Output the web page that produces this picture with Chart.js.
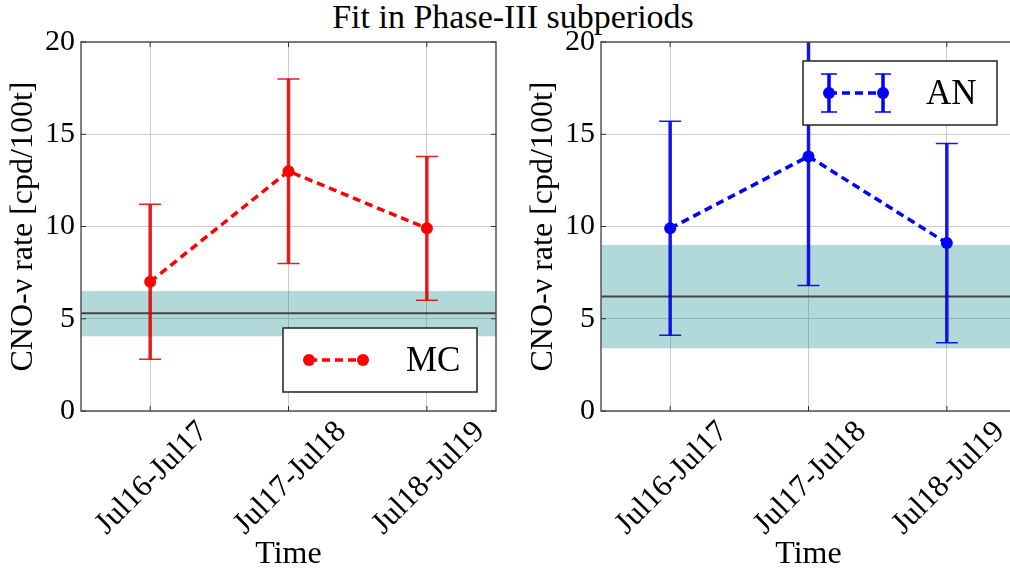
<!DOCTYPE html>
<html>
<head>
<meta charset="utf-8">
<script src="https://cdn.jsdelivr.net/npm/chart.js@4.4.1/dist/chart.umd.min.js"></script>
<style>
  body { margin: 0; background: #fff; width: 1010px; height: 574px; overflow: hidden; position: relative; font-family: "Liberation Serif", serif; }
  #title { position: absolute; top: 0; left: 0; width: 1026px; text-align: center; font-size: 34px; line-height: 34px; color: #000; }
  .panel { position: absolute; top: 0; width: 510px; height: 574px; }
</style>
</head>
<body>
<div id="title">Fit in Phase-III subperiods</div>
<div class="panel" style="left:0"><canvas id="mcChart" width="510" height="574"></canvas></div>
<div class="panel" style="left:520px"><canvas id="anChart" width="510" height="574"></canvas></div>
<script>
var periods = ["Jul16-Jul17", "Jul17-Jul18", "Jul18-Jul19"];
var yTicks = [0, 5, 10, 15, 20];

// MC fit
var mcRate = [7.0, 13.0, 9.9];
var mcLow  = [2.8, 8.0, 6.0];
var mcHigh = [11.2, 18.0, 13.8];
var mcBand = [4.05, 6.5];
var mcRef  = 5.3;

// AN fit
var anRate = [9.9, 13.8, 9.1];
var anLow  = [4.1, 6.8, 3.7];
var anHigh = [15.7, 20.8, 14.5];
var anBand = [3.4, 9.0];
var anRef  = 6.2;

var SERIF = "'Liberation Serif', serif";

var extras = {
    id: 'extras',
    beforeDatasetsDraw: function(chart, args, o) {
        var ctx = chart.ctx, a = chart.chartArea;
        var xs = chart.scales.x, ys = chart.scales.y;
        ctx.save();
        ctx.beginPath();
        ctx.rect(a.left, a.top, a.right - a.left, a.bottom - a.top);
        ctx.clip();
        // expected-range band and reference line
        var t = ys.getPixelForValue(o.band[1]), b = ys.getPixelForValue(o.band[0]);
        ctx.fillStyle = 'rgba(0,128,128,0.3)';
        ctx.fillRect(a.left, t, a.right - a.left, b - t);
        var r = ys.getPixelForValue(o.ref);
        ctx.strokeStyle = '#444';
        ctx.lineWidth = 2;
        ctx.beginPath();
        ctx.moveTo(a.left, r);
        ctx.lineTo(a.right, r);
        ctx.stroke();
        // error bars
        ctx.strokeStyle = o.errColor;
        for (var i = 0; i < o.low.length; i++) {
            var px = xs.getPixelForValue(i);
            var lo = ys.getPixelForValue(o.low[i]), hi = ys.getPixelForValue(o.high[i]);
            ctx.lineWidth = 3.5;
            ctx.beginPath();
            ctx.moveTo(px, lo);
            ctx.lineTo(px, hi);
            ctx.stroke();
            ctx.lineWidth = 1.5;
            ctx.beginPath();
            ctx.moveTo(px - 11, lo); ctx.lineTo(px + 11, lo);
            ctx.moveTo(px - 11, hi); ctx.lineTo(px + 11, hi);
            ctx.stroke();
        }
        ctx.restore();
    },
    afterDraw: function(chart, args, o) {
        var ctx = chart.ctx, a = chart.chartArea;
        var xs = chart.scales.x, ys = chart.scales.y;
        ctx.save();
        // frame and inward tick marks
        ctx.strokeStyle = '#555';
        ctx.lineWidth = 1.5;
        ctx.strokeRect(a.left, a.top, a.right - a.left, a.bottom - a.top);
        ctx.lineWidth = 1;
        ctx.strokeStyle = '#333';
        ctx.beginPath();
        ys.ticks.forEach(function(tk) {
            var py = ys.getPixelForValue(tk.value);
            ctx.moveTo(a.left, py); ctx.lineTo(a.left + 5, py);
            ctx.moveTo(a.right, py); ctx.lineTo(a.right - 5, py);
        });
        xs.ticks.forEach(function(tk, i) {
            var px = xs.getPixelForValue(i);
            ctx.moveTo(px, a.bottom); ctx.lineTo(px, a.bottom - 5);
            ctx.moveTo(px, a.top); ctx.lineTo(px, a.top + 5);
        });
        ctx.stroke();

        // legend
        var lg = o.legend;
        var w = 194, h = 64;
        var bx = a.right - 19 - w;
        var by = lg.top ? a.top + 19 : a.bottom - 19 - h;
        ctx.fillStyle = '#fff';
        ctx.fillRect(bx, by, w, h);
        ctx.strokeStyle = '#222';
        ctx.lineWidth = 1.5;
        ctx.strokeRect(bx, by, w, h);
        var cy = by + h / 2, x1 = bx + 26, x2 = bx + 80;
        ctx.strokeStyle = lg.color;
        ctx.lineWidth = 3.5;
        ctx.setLineDash([8, 5]);
        ctx.beginPath();
        ctx.moveTo(x1, cy); ctx.lineTo(x2, cy);
        ctx.stroke();
        ctx.setLineDash([]);
        [x1, x2].forEach(function(px) {
            if (lg.errorBar) {
                ctx.strokeStyle = lg.color;
                ctx.lineWidth = 3.5;
                ctx.beginPath();
                ctx.moveTo(px, cy - 19); ctx.lineTo(px, cy + 19);
                ctx.stroke();
                ctx.lineWidth = 1.5;
                ctx.beginPath();
                ctx.moveTo(px - 8, cy - 19); ctx.lineTo(px + 8, cy - 19);
                ctx.moveTo(px - 8, cy + 19); ctx.lineTo(px + 8, cy + 19);
                ctx.stroke();
            }
            ctx.fillStyle = lg.color;
            ctx.beginPath();
            ctx.arc(px, cy, 6, 0, Math.PI * 2);
            ctx.fill();
        });
        ctx.fillStyle = '#000';
        ctx.font = '35px ' + SERIF;
        ctx.textBaseline = 'middle';
        ctx.textAlign = 'left';
        ctx.fillText(lg.label, bx + 123, cy + 2);
        ctx.restore();
    }
};

function makeChart(id, rate, low, high, band, ref, color, errColor, legend) {
    return new Chart(document.getElementById(id), {
        type: 'line',
        data: {
            labels: periods,
            datasets: [{
                label: legend.label,
                data: rate,
                borderColor: color,
                backgroundColor: color,
                borderWidth: 3.5,
                borderDash: [8, 5],
                pointRadius: 6,
                pointBorderWidth: 0,
                pointBackgroundColor: color,
                tension: 0,
                fill: false
            }]
        },
        options: {
            responsive: false,
            animation: false,
            layout: { padding: { top: 42, right: 14, left: 0, bottom: 0 } },
            plugins: {
                legend: { display: false },
                tooltip: { enabled: false },
                extras: { band: band, ref: ref, low: low, high: high, errColor: errColor, legend: legend }
            },
            scales: {
                x: {
                    offset: true,
                    grid: { color: '#cccccc', drawTicks: false },
                    border: { display: false },
                    ticks: {
                        color: '#000',
                        font: { family: SERIF, size: 31 },
                        minRotation: 45,
                        maxRotation: 45,
                        autoSkip: false,
                        labelOffset: 53,
                        padding: 3
                    },
                    title: { display: true, text: 'Time', color: '#000', font: { family: SERIF, size: 32 }, padding: { top: 0, bottom: 0 } },
                    afterFit: function(s) { s.height = 163; }
                },
                y: {
                    min: 0,
                    max: 20,
                    afterBuildTicks: function(s) { s.ticks = yTicks.map(function(v) { return { value: v }; }); },
                    grid: { color: '#cccccc', drawTicks: false },
                    border: { display: false },
                    ticks: { color: '#000', font: { family: SERIF, size: 30 }, padding: 6 },
                    title: { display: true, text: 'CNO-\u03bd rate [cpd/100t]', color: '#000', font: { family: SERIF, size: 32 }, padding: { top: 4, bottom: 0 } },
                    afterFit: function(s) { s.width = 81; }
                }
            }
        },
        plugins: [extras]
    });
}

makeChart('mcChart', mcRate, mcLow, mcHigh, mcBand, mcRef, '#ff0000', 'rgba(228,0,0,0.88)',
    { label: 'MC', color: '#ff0000', top: false, errorBar: false });
makeChart('anChart', anRate, anLow, anHigh, anBand, anRef, '#0000ff', 'rgba(0,0,228,0.9)',
    { label: 'AN', color: '#0000ff', top: true, errorBar: true });
</script>
</body>
</html>
